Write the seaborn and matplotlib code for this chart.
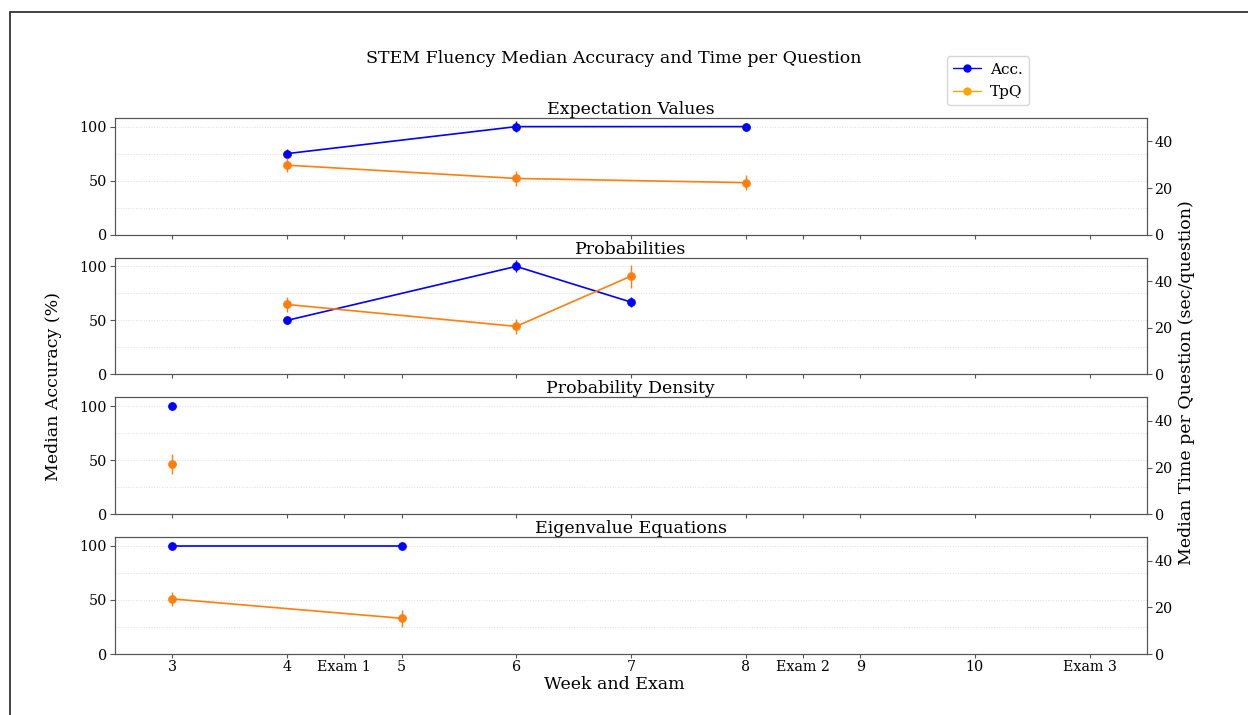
import matplotlib
matplotlib.use("Agg")
import matplotlib.pyplot as plt
from matplotlib.lines import Line2D
from matplotlib.patches import Rectangle
import seaborn as sns
import pandas as pd

# ---- data ----
tick_pos = [3, 4, 4.5, 5, 6, 7, 8, 8.5, 9, 10, 11]
tick_labels = ["3", "4", "Exam 1", "5", "6", "7", "8", "Exam 2", "9", "10", "Exam 3"]

topics = ["Expectation Values", "Probabilities", "Probability Density", "Eigenvalue Equations"]

exp_x = [4, 6, 8]
exp_acc = [75, 100, 100]
exp_acc_err = [4, 5, 2]
exp_tpq = [29.8, 24.1, 22.3]
exp_tpq_err = [3.0, 3.3, 3.3]

prob_x = [4, 6, 7]
prob_acc = [50, 100, 67]
prob_acc_err = [3.5, 5.5, 4.5]
prob_tpq = [30.0, 20.6, 42.1]
prob_tpq_err = [3.3, 3.3, 4.9]

dens_x = [3]
dens_acc = [100]
dens_acc_err = [0]
dens_tpq = [21.7]
dens_tpq_err = [4.3]

eig_x = [3, 5]
eig_acc = [100, 100]
eig_acc_err = [3, 3]
eig_tpq = [23.6, 15.3]
eig_tpq_err = [3.0, 3.6]

panels = [
    (exp_x, exp_acc, exp_acc_err, exp_tpq, exp_tpq_err),
    (prob_x, prob_acc, prob_acc_err, prob_tpq, prob_tpq_err),
    (dens_x, dens_acc, dens_acc_err, dens_tpq, dens_tpq_err),
    (eig_x, eig_acc, eig_acc_err, eig_tpq, eig_tpq_err),
]

# ---- style ----
sns.set_style("ticks")
plt.rcParams["font.family"] = ["DejaVu Serif"]
plt.rcParams["text.color"] = "black"
plt.rcParams["axes.edgecolor"] = "#555555"
plt.rcParams["xtick.color"] = "#555555"
plt.rcParams["ytick.color"] = "#555555"
plt.rcParams["xtick.labelcolor"] = "black"
plt.rcParams["ytick.labelcolor"] = "black"

ACC_C = "#0000ff"
TPQ_C = "#ff7f0e"
TICK_FS = 10.3
TEXT_FS = 12.5

fig, axes = plt.subplots(4, 1, figsize=(12.48, 7.15), dpi=100, sharex=True)
fig.subplots_adjust(left=0.092, right=0.919, top=0.835, bottom=0.0853, hspace=0.197)

for ax, title, (x, acc, acc_err, tpq, tpq_err) in zip(axes, topics, panels):
    df = pd.DataFrame({"x": x, "acc": acc, "tpq": tpq})
    ax2 = ax.twinx()
    sns.lineplot(data=df, x="x", y="acc", ax=ax, color=ACC_C, marker="o",
                 markersize=5.5, markeredgecolor=ACC_C, linewidth=1.2)
    ax.errorbar(x, acc, yerr=acc_err, fmt="none", ecolor=ACC_C, elinewidth=1.0)
    sns.lineplot(data=df, x="x", y="tpq", ax=ax2, color=TPQ_C, marker="o",
                 markersize=5.5, markeredgecolor=TPQ_C, linewidth=1.2)
    ax2.errorbar(x, tpq, yerr=tpq_err, fmt="none", ecolor=TPQ_C, elinewidth=1.0)

    ax.set_ylim(0, 108)
    ax.set_yticks([0, 50, 100])
    ax.set_yticks([25, 75], minor=True)
    ax.tick_params(axis="y", which="minor", length=0)
    ax.grid(axis="y", which="both", color="#dddddd", linestyle=":", linewidth=0.7)
    ax.set_axisbelow(True)
    ax2.set_ylim(0, 50)
    ax2.set_yticks([0, 20, 40])
    ax.set_xlim(2.5, 11.5)
    ax.set_xticks(tick_pos)
    ax.set_xticklabels(tick_labels)
    ax.set_xlabel("")
    ax.set_ylabel("")
    ax2.set_ylabel("")
    ax.set_title(title, fontsize=TEXT_FS, pad=3)
    for a in (ax, ax2):
        a.tick_params(which="major", labelsize=TICK_FS, length=3.5, width=0.8, pad=2)
        for s in a.spines.values():
            s.set_color("#555555")
    ax.tick_params(axis="x", pad=1, length=3)

fig.text(0.492, 0.918, "STEM Fluency Median Accuracy and Time per Question",
         ha="center", va="center", fontsize=TEXT_FS)
fig.text(0.492, 0.043, "Week and Exam", ha="center", va="center", fontsize=TEXT_FS)
fig.text(0.043, 0.46, "Median Accuracy (%)", ha="center", va="center",
         rotation=90, fontsize=TEXT_FS)
fig.text(0.951, 0.465, "Median Time per Question (sec/question)", ha="center",
         va="center", rotation=90, fontsize=TEXT_FS)

handles = [Line2D([], [], color="blue", marker="o", markersize=5, linewidth=1),
           Line2D([], [], color="orange", marker="o", markersize=5, linewidth=1)]
fig.legend(handles, ["Acc.", "TpQ"], loc="upper left", bbox_to_anchor=(0.759, 0.921),
           fontsize=11, frameon=True, handlelength=1.8, borderpad=0.4,
           labelspacing=0.55, handletextpad=0.6, borderaxespad=0)

fig.add_artist(Rectangle((10 / 1248, -0.5), 2.0, 1.5 - 12 / 715,
                         transform=fig.transFigure, fill=False,
                         edgecolor="#222222", linewidth=1.2))

fig.savefig("out.png", dpi=100)
